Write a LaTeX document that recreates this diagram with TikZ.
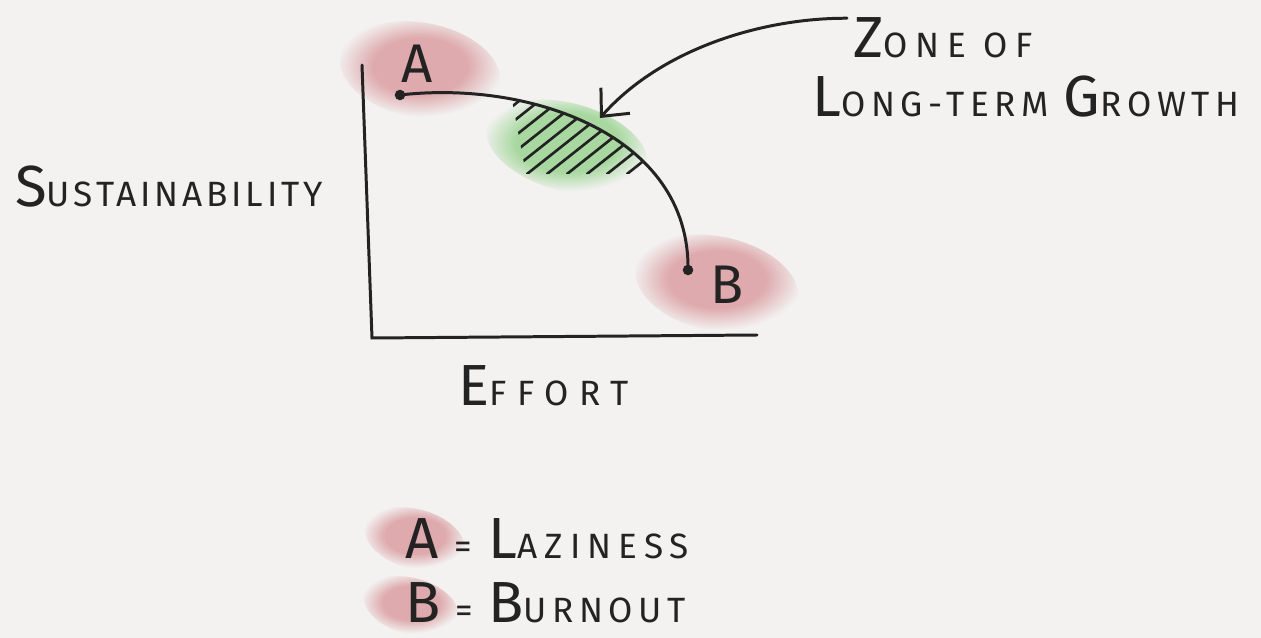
\documentclass[tikz,border=0pt]{standalone}
\usepackage{fontspec}
\setmainfont{Fira Sans}
\usepackage{tikz}
\usetikzlibrary{arrows.meta, positioning, shapes.geometric}

\definecolor{paper}{RGB}{243,242,241}
\definecolor{ink}{RGB}{35,35,35}
\definecolor{blush}{RGB}{222,170,173}
\definecolor{mint}{RGB}{168,216,160}

% soft edged blobs
\pgfdeclareradialshading{pinkblob}{\pgfpoint{0bp}{0bp}}{color(0bp)=(blush); color(14bp)=(blush); color(25bp)=(paper); color(50bp)=(paper)}
\pgfdeclareradialshading{greenblob}{\pgfpoint{0bp}{0bp}}{color(0bp)=(mint); color(15bp)=(mint); color(25bp)=(paper); color(50bp)=(paper)}

% hand lettering: big first letter, small caps after, spaced out
\newcommand{\hw}[3][12]{{\addfontfeature{LetterSpace=#1}\fontsize{33}{33}\selectfont #2}{\addfontfeature{LetterSpace=#1}\fontsize{20}{20}\selectfont #3}}

\begin{document}
\begin{tikzpicture}[
  x=0.02cm, y=-0.02cm,
  blob/.style={ellipse, minimum width=#1, inner sep=0pt, shading=pinkblob},
  zone/.style={ellipse, inner sep=0pt, shading=greenblob},
  dot/.style={circle, fill=ink, inner sep=0pt, minimum size=6pt},
  label/.style={text=ink, inner sep=0pt, anchor=base west},
  line/.style={draw=ink, line width=1.7pt, line cap=round}
]
  \useasboundingbox[fill=paper] (0,0) rectangle (1261,638);

  % blobs
  \node[blob=92pt, minimum height=54pt, rotate=-10] (blobA) at (420,70) {};
  \node[blob=94pt, minimum height=54pt, rotate=-12] (blobB) at (717,284) {};
  \node[zone, minimum width=94pt, minimum height=50pt, rotate=-15] (green) at (567,147) {};
  \node[blob=58pt, minimum height=34pt, rotate=-15] (keyA) at (415,539) {};
  \node[blob=55pt, minimum height=32pt, rotate=-15] (keyB) at (411,606) {};

  % axes
  \coordinate (top)    at (362,65);
  \coordinate (origin) at (372,338);
  \coordinate (right)  at (757,335);
  \draw[line] (top) -- (origin) -- (right);

  % hatching under the curve
  \begin{scope}
    \clip (400,95) .. controls (530,80) and (690,135) .. (688,270) -- (400,270) -- cycle;
    \clip (512,100) -- (700,100) -- (700,174) -- (526,174) -- cycle;
    \foreach \i in {-6,...,5}
      \draw[line, line width=1.5pt] (527+\i*20,174) -- ++(140,-111);
  \end{scope}

  % curve between A and B
  \node[dot] (ptA) at (400,95) {};
  \node[dot] (ptB) at (688,270) {};
  \draw[line] (ptA.center) .. controls (530,80) and (690,135) .. (ptB.center);

  \node[text=ink, font=\fontsize{31}{31}\selectfont] (A) at (417,64) {A};
  \node[text=ink, font=\fontsize{31}{31}\selectfont] (B) at (727,285) {B};

  % labels
  \node[label] (sust) at (15,207) {\hw[11]{S}{USTAINABILITY}};
  \node[label] (effort) at (458,406) {\hw[30]{E}{FFORT}};
  \node[label] (zone1) at (853,58) {\hw[22]{Z}{ONE OF}};
  \node[label] (zone2) at (812,117) {\hw[16]{L}{ONG-TERM }\hw[16]{G}{ROWTH}};

  % arrow into the zone
  \coordinate (tip) at (600,118);
  \draw[line, -{Straight Barb[length=12pt, width=22pt, line width=1.7pt]}]
    (zone1.west) ++(-6,-20) .. controls (760,18) and (660,50) .. (tip);

  % legend
  \node[label] (lazy) at (405,558) {\hw[20]{A}{ = }\hw[20]{L}{AZINESS}};
  \node[label] (burn) at (405,622) {\hw[16]{B}{ = }\hw[16]{B}{URNOUT}};
\end{tikzpicture}
\end{document}
